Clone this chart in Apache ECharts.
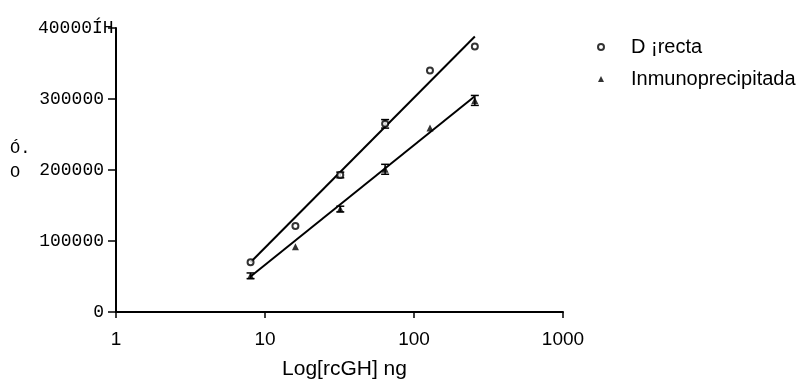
<!DOCTYPE html>
<html>
<head>
<meta charset="utf-8">
<script src="https://cdn.jsdelivr.net/npm/echarts@6/dist/echarts.min.js"></script>
<style>
  html, body { margin: 0; padding: 0; background: #fff; }
  #chart { width: 805px; height: 385px; }
</style>
</head>
<body>
<div id="chart"></div>
<script>
// dosis (ng) y cpm
var dosis = [8, 16, 32, 64, 128, 256];
var directa = [70000, 121000, 193000, 265000, 340000, 374000];
var inmuno = [51000, 92000, 145000, 201000, 259000, 298000];
var directaErr = [0, 0, 4000, 6000, 0, 0];
var inmunoErr = [4000, 0, 4000, 7000, 0, 7000];
// rectas de ajuste (extremos)
var directaFit = [[8, 70000], [256, 388000]];
var inmunoFit = [[8, 50000], [256, 304000]];
var xTicks = ['1', '10', '100', '1000'];
var yTicks = ['0', '100000', '200000', '300000', '40000ÍH'];

function pares(xs, ys) {
  return xs.map(function (x, i) { return [x, ys[i]]; });
}
function barras(xs, ys, es) {
  var out = [];
  xs.forEach(function (x, i) {
    if (es[i] > 0) out.push([x, ys[i] - es[i], ys[i] + es[i]]);
  });
  return out;
}
function renderErr(params, api) {
  var lo = api.coord([api.value(0), api.value(1)]);
  var hi = api.coord([api.value(0), api.value(2)]);
  var w = 4;
  var st = { stroke: '#000', lineWidth: 1.5 };
  return {
    type: 'group',
    children: [
      { type: 'line', shape: { x1: lo[0], y1: lo[1], x2: hi[0], y2: hi[1] }, style: st },
      { type: 'line', shape: { x1: lo[0] - w, y1: lo[1], x2: lo[0] + w, y2: lo[1] }, style: st },
      { type: 'line', shape: { x1: hi[0] - w, y1: hi[1], x2: hi[0] + w, y2: hi[1] }, style: st }
    ]
  };
}

var chart = echarts.init(document.getElementById('chart'));
var option = {
  animation: false,
  grid: { left: 116, right: 242, top: 28, bottom: 73 },
  legend: {
    orient: 'vertical',
    left: 592,
    top: 32,
    itemGap: 12,
    itemWidth: 6,
    itemHeight: 6,
    textStyle: { fontFamily: 'Liberation Sans', fontSize: 20, color: '#000', padding: [0, 0, 0, 22] },
    data: [
      { name: 'D ¡recta', icon: 'emptyCircle', itemStyle: { color: '#000', borderColor: '#000', borderWidth: 1.2 } },
      { name: 'Inmunoprecipitada', icon: 'triangle', itemStyle: { color: '#000' } }
    ]
  },
  xAxis: {
    type: 'log',
    logBase: 10,
    min: 1,
    max: 1000,
    name: 'Log[rcGH] ng',
    nameLocation: 'middle',
    nameGap: 47,
    nameTextStyle: { fontFamily: 'Liberation Sans', fontSize: 21, color: '#000', padding: [0, 0, 0, 10] },
    axisLine: { lineStyle: { color: '#000', width: 2 } },
    axisTick: { show: true, length: 6, lineStyle: { color: '#000', width: 1.5 } },
    minorTick: { show: false },
    splitLine: { show: false },
    axisLabel: {
      margin: 18,
      fontFamily: 'Liberation Sans',
      fontSize: 19,
      color: '#000',
      formatter: function (v) {
        var i = Math.round(Math.log10(v));
        return xTicks[i] || '';
      }
    }
  },
  yAxis: {
    type: 'value',
    min: 0,
    max: 400000,
    interval: 100000,
    axisLine: { show: true, lineStyle: { color: '#000', width: 2 } },
    axisTick: { show: true, length: 8, lineStyle: { color: '#000', width: 1.5 } },
    splitLine: { show: false },
    axisLabel: {
      margin: 12,
      fontFamily: 'Liberation Mono',
      fontSize: 18,
      color: '#000',
      formatter: function (v) {
        var i = Math.round(v / 100000);
        return i === 4 ? '' : yTicks[i];
      }
    }
  },
  graphic: [
    { type: 'text', left: 38, top: 19, style: { text: yTicks[4], font: '18px "Liberation Mono"', fill: '#000' } },
    { type: 'text', left: 10, top: 140, style: { text: 'Ó.', font: '17px "Liberation Mono"', fill: '#000' } },
    { type: 'text', left: 10, top: 164, style: { text: 'O', font: '17px "Liberation Mono"', fill: '#000' } }
  ],
  series: [
    {
      name: 'D ¡recta',
      type: 'scatter',
      symbol: 'emptyCircle',
      symbolSize: 6,
      itemStyle: { color: '#000', borderWidth: 1.3 },
      data: pares(dosis, directa),
      z: 5
    },
    {
      name: 'Inmunoprecipitada',
      type: 'scatter',
      symbol: 'triangle',
      symbolSize: 7,
      itemStyle: { color: '#000' },
      data: pares(dosis, inmuno),
      z: 5
    },
    {
      type: 'line',
      data: directaFit,
      symbol: 'none',
      lineStyle: { color: '#000', width: 2 },
      silent: true
    },
    {
      type: 'line',
      data: inmunoFit,
      symbol: 'none',
      lineStyle: { color: '#000', width: 2 },
      silent: true
    },
    {
      type: 'custom',
      renderItem: renderErr,
      data: barras(dosis, directa, directaErr),
      encode: { x: 0, y: [1, 2] },
      z: 4
    },
    {
      type: 'custom',
      renderItem: renderErr,
      data: barras(dosis, inmuno, inmunoErr),
      encode: { x: 0, y: [1, 2] },
      z: 4
    }
  ]
};
chart.setOption(option);
</script>
</body>
</html>
